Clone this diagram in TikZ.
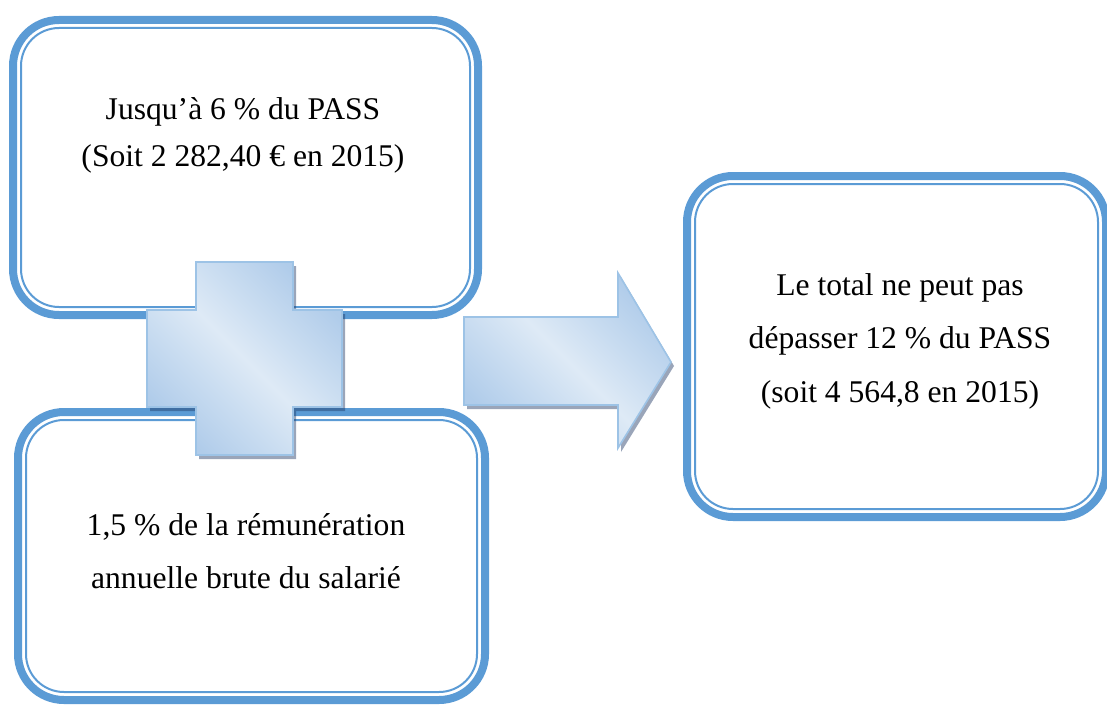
\documentclass[tikz,border=0pt]{standalone}
\usepackage{fontspec}
\setmainfont{Liberation Serif}
\usetikzlibrary{positioning}
\definecolor{cadre}{HTML}{5B9BD5}
\definecolor{clair}{HTML}{DEEAF6}
\definecolor{fonce}{HTML}{B0CCEA}
\definecolor{trait}{HTML}{9DC3E6}
\definecolor{ombre}{HTML}{1F3864}

\begin{document}
\begin{tikzpicture}[x=.5pt,y=-.5pt,
 boite/.style={draw=cadre,line width=4pt,rounded corners=23pt,outer sep=0pt,inner sep=0pt},
 filet/.style={draw=cadre,line width=1pt,rounded corners=19pt},
 forme/.style={draw=trait,line width=.8pt,top color=fonce,bottom color=fonce,middle color=clair,shading angle=-45,
  preaction={fill=ombre,opacity=.45,transform canvas={shift={(3,4)}}}},
 texte/.style={align=center,font=\fontsize{15.8}{26.75}\selectfont}]
 \useasboundingbox (0,0) rectangle (1107,706);
 % les trois cadres
 \node[boite,minimum width=232.5pt,minimum height=147.5pt] (haut) at (245.5,167.5) {};
 \node[boite,minimum width=233.5pt,minimum height=144pt] (bas) at (251.5,556) {};
 \node[boite,minimum width=209.5pt,minimum height=170.5pt] (total) at (896.5,346.5) {};
 \foreach \b in {haut,bas,total}
  \draw[filet] ([shift={(8,8)}]\b.north west) rectangle ([shift={(-8,-8)}]\b.south east);
 \node[texte,font=\fontsize{15.8}{23.5}\selectfont] (txthaut) at (243,135) {Jusqu’à 6 \% du PASS\\(Soit 2 282,40 € en 2015)};
 \node[texte] (txtbas) at (246,551) {1,5 \% de la rémunération\\annuelle brute du salarié};
 \node[texte] (txttotal) at (900,341) {Le total ne peut pas\\dépasser 12 \% du PASS\\(soit 4 564,8 en 2015)};
 % plus et fleche
 \path[forme] (196,262)--(293,262)--(293,310)--(342,310)--(342,407)--(293,407)--(293,455)
  --(196,455)--(196,407)--(147,407)--(147,310)--(196,310)--cycle;
 \path[forme] (464,317)--(618,317)--(618,273)--(671,362)--(618,448)--(618,405)--(464,405)--cycle;
\end{tikzpicture}
\end{document}
